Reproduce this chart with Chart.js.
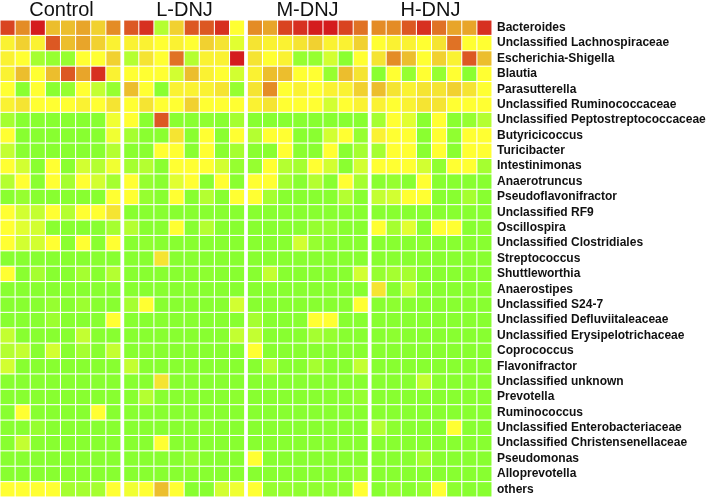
<!DOCTYPE html>
<html><head><meta charset="utf-8">
<script src="https://cdn.jsdelivr.net/npm/chart.js@4.4.1/dist/chart.umd.min.js"></script>
<style>html,body{margin:0;padding:0;background:#fff}#wrap{width:711px;height:498px;position:relative}</style>
</head><body><div id="wrap"><canvas id="c"></canvas></div>
<script>
const genera = ['Bacteroides','Unclassified Lachnospiraceae','Escherichia-Shigella','Blautia','Parasutterella','Unclassified Ruminococcaceae','Unclassified Peptostreptococcaceae','Butyricicoccus','Turicibacter','Intestinimonas','Anaerotruncus','Pseudoflavonifractor','Unclassified RF9','Oscillospira','Unclassified Clostridiales','Streptococcus','Shuttleworthia','Anaerostipes','Unclassified S24-7','Unclassified Defluviitaleaceae','Unclassified Erysipelotrichaceae','Coprococcus','Flavonifractor','Unclassified unknown','Prevotella','Ruminococcus','Unclassified Enterobacteriaceae','Unclassified Christensenellaceae','Pseudomonas','Alloprevotella','others'];
const groups = ['Control','L-DNJ','M-DNJ','H-DNJ'];

// colour level per cell (0 = green, 4.5 = yellow, 10 = red); 8 samples per group
const control = [
[9,7.5,10,6.5,6.5,7,6,7.5],
[5,6,5,8.5,6.5,7,6,5],
[5,4.5,1.5,1,1,4.5,4.5,6],
[5,6.5,4.5,6.5,8.5,7,9.5,5],
[4.5,0.5,4.5,0.5,1,4.5,2.5,1],
[5,5.5,4.5,4.5,4.5,5,4.5,5.5],
[1.5,0,0,0,0,0,0,4],
[4.5,0,0,0,0,0,0,4],
[2.5,0.5,0,0,0,0,0,2],
[4.5,3,0.5,4.5,0.5,3,2,4],
[2,4.5,0.5,4.5,1.5,4.5,3,1.5],
[0.5,1,0,0,0,0,0,4.5],
[4.5,3,2.5,4.5,2,4.5,4.5,5.5],
[4.5,3.5,3,0.5,0,0,0,1.5],
[4.5,3,3,4.5,0.5,4.5,0.5,4.5],
[0,0,0,0,0,0,0,0],
[4.5,0.5,1.5,0,0,1.5,0,2],
[0,0,0,0,0,0,0,0],
[0,0,0,1,0,1.2,0,0],
[0,0,0,1.2,0,0,0,4.5],
[2.5,0,0,0,0,2.5,0,0],
[2,2.5,0,3,0,1.5,0,2.5],
[3,0,0,0,0,0,0,0],
[0,0,0,0,0,0,0,0],
[0,0,0,0,0,0,0,0],
[0,4.5,0,0,0,0,4.5,0],
[0,0,1,0,0,0,0,0],
[0,2.5,0,0,0,0,0,0],
[0,0,0,0,0,0,0,0],
[0,0,0,0,0,0,0,0],
[4.5,4.5,4.5,4.5,1.5,1.5,1.5,4.5]
];
const lDNJ = [
[8.5,9.5,2,6,8.5,8.5,9.5,4.5],
[5,5,4.5,5,4.5,6,5.5,3.5],
[2,5.5,4.5,8,2,5,5,10],
[4.5,4.5,4.5,3,6.5,5,4.5,3],
[6.5,4.5,0.5,5,5,5,5.5,1],
[4.5,5.5,4.5,4.5,6,4.5,4.5,4.5],
[4.5,0.5,8.5,0.5,0.5,0.8,0.5,1.5],
[1.5,0.5,0.5,5.5,0.5,4.5,0.5,4.5],
[0.5,0.5,4.5,4.5,0.5,4.5,0.5,1.5],
[1.5,2,0.5,4.5,4.5,4.5,3,1],
[4.5,1,0.5,3.5,4.5,0.5,4.5,0.5],
[4.5,1,0,4.5,0,2,0,4.5],
[0,0,0,0,0,0,0,0],
[2,0,0,4.5,0,2,0,0],
[0,0.8,0,0,0,0,0,0],
[0,0,5.5,0,0,0,0,0],
[0,0,0,0,0,0.7,0,0],
[0,0,0,0,0,0,0,0],
[1.5,4.5,0,0,0,0,0,3],
[0,0,0,0,0,0,0,0],
[0,0,0,0,0,0,0,2.5],
[0,0.7,0,0,0,0,0,0],
[2.5,0,0,0,0,0,0,0],
[0,0,5.5,0,0,0,0,0],
[0,2,0,0,0,0,0,0.7],
[0,0,0,0,0,0,0,0],
[0,0,0,0,0,0.7,0,0],
[0,0,4.5,0,0,0,0,0],
[0,0,0,0,1,0,0,0],
[0,0,0,0,0,0,0,0],
[4,4.5,6.5,4.5,0,0,3,4]
];
const mDNJ = [
[7.5,7,9,9.5,10,10,9,8],
[5.5,5,5,5.5,6,5,5,6],
[5.5,4.5,5,1,1,3,0.5,4.5],
[5,6.5,6.5,4.5,4.5,1,6.5,5.5],
[5.5,7.5,4.5,5,4.5,5,5,6],
[5,5.5,4.5,4.5,4.5,3,4.5,5],
[0,0,0,0,0,0,0,0],
[2,4.5,4.5,0.5,0.5,3,4.5,1],
[0.5,0.5,4.5,0.5,0.5,4.5,0.5,1.5],
[1,4.5,2,1.5,4.5,3,0.5,3],
[4.5,4.5,1.5,0,2,0,4.5,1.5],
[4.5,1.5,0,0,0,0,2,0],
[0,0,0,0,0,0,0,0],
[0,0,0,0,1,1,0,0],
[0,0,0,3,1,0,0,0],
[0,0,0,0,0,0,0,0],
[0,2.5,0,0,0,0,0,3],
[0,0,0,0,0,0,0,0],
[0,0,0,0,0,0,0,4.5],
[1.5,0,0,0,4.5,4.5,0,0],
[2.5,0,0,0,1.5,1,0,0],
[4.5,0,0,0,0,0,0,0],
[0,2,0,0,1.5,0,0,2.5],
[0,0,0,0,0,0,0,0],
[0,0,0,0,0,0,0,1],
[0,0,0,0,0,0,0,0],
[0,0,0,0,0,0,0,0],
[0,0,0,0,0,0,0,0],
[4.5,0,0,0,0,0,0,0],
[0,0,0,0,0,0,0,1],
[4.5,1,1,0.8,0.8,0.8,0.8,4.5]
];
const hDNJ = [
[7.5,7.5,8.5,9.5,8,7,7,9.5],
[4.5,5,5,4.5,5.5,8,4.5,4.5],
[5.5,7.5,6.5,4.5,6,5,8.5,6.5],
[0.5,4.5,1,4.5,1,4.5,0.5,4.5],
[6.5,5.5,5,5.5,5.5,6,5.5,4.5],
[5,4.5,5,5.5,5.5,4.5,4.5,4.5],
[1.5,4.5,3.5,0.5,4.5,0.5,1,2],
[5,4.5,4.5,0.5,4.5,0.8,4.5,4.5],
[1.5,4.5,4.5,0.5,4.5,0.5,4.5,4.5],
[4.5,4.5,4.5,3,0.8,4.5,4.5,1.5],
[0.5,1,0,4.5,0,0,0,0],
[2.5,3,4.5,4.5,0,0,1.5,0],
[0,0,0,0,0,0,0,0],
[4.5,1.5,3.5,0,4.5,4.5,0,0.7],
[0,0,0,0.7,0,0,0,0],
[0,0,0,0,0,0,0,0],
[1,1.5,1.5,0,0,0,0,0],
[5.5,0,2.5,0,0,0,0,0],
[0,0.7,0,0,0,0,0,0],
[0,0,0,0,0,0,0,0],
[0,0.7,0,0,0,0,0,0],
[0,0,0,0,0,0,0,0],
[0,0,0,0,0,0,0,0],
[0,0,0,2.5,0,0,0,0],
[0,0,0,0,0,0,0,0],
[0,0,0,0,0,0,0,0],
[2,0.7,0,0,0,4.5,0,0],
[0,0,0,0,0,0,0,0],
[0,0,0,1.5,0,0,0,0],
[0,0,0,0,0,0,0,0],
[0,1,0,1,4.5,0.7,0,0]
];

const groupValues = [control, lDNJ, mDNJ, hDNJ];
const samplesPerGroup = 8;
const groupGap = 0.18;   // extra spacing between groups (in sample units)
const cellGap = 0.035;   // white line inside each sample slot

const stops = [
  [0,   [136,255,48]],
  [0.6, [138,255,48]],
  [4.5, [255,255,50]],
  [5.5, [245,228,50]],
  [6.5, [236,190,45]],
  [7.5, [228,140,38]],
  [8.5, [220,88,35]],
  [10,  [212,28,30]]
];
function colorFor(v){
  for(let i=1;i<stops.length;i++){
    if(v<=stops[i][0]){
      const [a,ca]=stops[i-1],[b,cb]=stops[i];
      const t=(v-a)/(b-a);
      const c=ca.map((x,k)=>Math.round(x+(cb[k]-x)*t));
      return `rgb(${c[0]},${c[1]},${c[2]})`;
    }
  }
  const c=stops[stops.length-1][1];
  return `rgb(${c[0]},${c[1]},${c[2]})`;
}

const datasets = [];
groupValues.forEach((mat, g) => {
  for (let s = 0; s < samplesPerGroup; s++) {
    const x0 = g * (samplesPerGroup + groupGap) + s;
    datasets.push({
      label: groups[g] + ' ' + (s + 1),
      data: mat.map(() => [x0 + cellGap, x0 + 1 - cellGap]),
      backgroundColor: mat.map(row => colorFor(row[s])),
      borderWidth: 0,
      grouped: false,
      categoryPercentage: 1,
      barPercentage: 0.93
    });
  }
});

new Chart(document.getElementById('c'), {
  type: 'bar',
  data: { labels: genera, datasets },
  options: {
    indexAxis: 'y',
    responsive: true,
    maintainAspectRatio: false,
    animation: false,
    layout: { padding: { left: 0, right: 0, top: 0, bottom: 1 } },
    plugins: { legend: { display: false }, tooltip: { enabled: false } },
    scales: {
      x: {
        type: 'linear',
        min: 0,
        max: groups.length * samplesPerGroup + (groups.length - 1) * groupGap,
        display: false
      },
      xTop: {
        type: 'category',
        axis: 'x',
        labels: groups,
        position: 'top',
        offset: true,
        grid: { display: false, drawTicks: false },
        border: { display: false },
        ticks: { color: '#111', padding: -2, font: { family: 'Liberation Sans, Arial, sans-serif', size: 20 } },
        afterFit: s => { s.height = 20; s.paddingLeft = 0; s.paddingRight = 0; }
      },
      y: {
        type: 'category',
        position: 'right',
        offset: true,
        grid: { display: false, drawTicks: false },
        border: { display: false },
        ticks: { color: '#111', padding: 5, autoSkip: false, font: { family: 'Liberation Sans, Arial, sans-serif', size: 12, weight: 'bold' } },
        afterFit: s => { s.width = 219; s.paddingTop = 0; s.paddingBottom = 0; }
      }
    }
  }
});
</script></body></html>
